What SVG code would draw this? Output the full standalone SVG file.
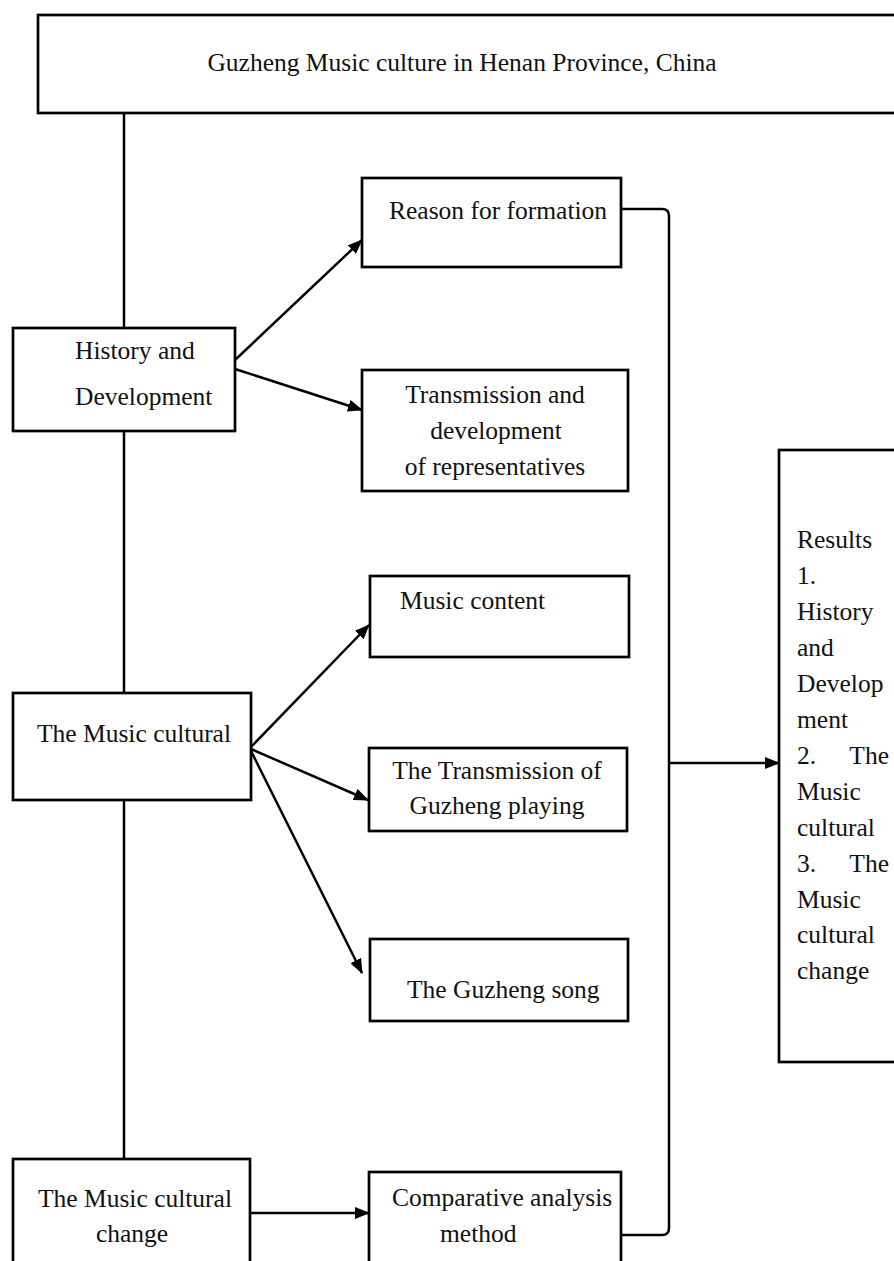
<svg xmlns="http://www.w3.org/2000/svg" width="894" height="1261" viewBox="0 0 894 1261">
<style>
.box{fill:#fff;stroke:#000;stroke-width:2.7}
.ln{fill:none;stroke:#000;stroke-width:2.5}
.t{font-family:"Liberation Serif","Times New Roman",serif;font-size:25.5px;fill:#111}
.c{text-anchor:middle}
</style>
<defs>
<marker id="ah" markerUnits="userSpaceOnUse" markerWidth="15" markerHeight="12" refX="14" refY="6" orient="auto">
<path d="M0,0 L15,6 L0,12 z" fill="#000"/>
</marker>
</defs>
<rect width="894" height="1261" fill="#fff"/>
<g id="connectors">
<line class="ln" x1="124" y1="113" x2="124" y2="1159"/>
<line class="ln" x1="235" y1="360" x2="362" y2="240" marker-end="url(#ah)"/>
<line class="ln" x1="235" y1="369" x2="362" y2="410" marker-end="url(#ah)"/>
<line class="ln" x1="251" y1="747" x2="369" y2="625" marker-end="url(#ah)"/>
<line class="ln" x1="251" y1="749" x2="368" y2="800" marker-end="url(#ah)"/>
<line class="ln" x1="251" y1="751" x2="362" y2="973" marker-end="url(#ah)"/>
<line class="ln" x1="250" y1="1213" x2="369" y2="1213" marker-end="url(#ah)"/>
<path class="ln" d="M621,209 L662,209 Q669,209 669,216 L669,1228 Q669,1235 662,1235 L621,1235"/>
<line class="ln" x1="669" y1="763" x2="779" y2="763" marker-end="url(#ah)"/>
</g>
<g id="title">
<rect class="box" x="38" y="15" width="870" height="98"/>
<text class="t c" x="462" y="71">Guzheng Music culture in Henan Province, China</text>
</g>
<g id="history">
<rect class="box" x="13" y="328" width="222" height="103"/>
<text class="t" x="75" y="359">History and</text>
<text class="t" x="75" y="405">Development</text>
</g>
<g id="reason">
<rect class="box" x="362" y="178" width="259" height="89"/>
<text class="t" x="389" y="219">Reason for formation</text>
</g>
<g id="transmission">
<rect class="box" x="362" y="370" width="266" height="121"/>
<text class="t c" x="495" y="403">Transmission and</text>
<text class="t c" x="496" y="439">development</text>
<text class="t c" x="495" y="475">of representatives</text>
</g>
<g id="music-cultural">
<rect class="box" x="13" y="693" width="238" height="107"/>
<text class="t" x="37" y="742">The Music cultural</text>
</g>
<g id="music-content">
<rect class="box" x="370" y="576" width="259" height="81"/>
<text class="t" x="400" y="609">Music content</text>
</g>
<g id="transmission-playing">
<rect class="box" x="369" y="748" width="258" height="83"/>
<text class="t c" x="497" y="779">The Transmission of</text>
<text class="t c" x="497" y="814">Guzheng playing</text>
</g>
<g id="guzheng-song">
<rect class="box" x="370" y="939" width="258" height="82"/>
<text class="t" x="407" y="998">The Guzheng song</text>
</g>
<g id="music-cultural-change">
<rect class="box" x="13" y="1159" width="237" height="120"/>
<text class="t c" x="135" y="1207">The Music cultural</text>
<text class="t c" x="132" y="1242">change</text>
</g>
<g id="comparative">
<rect class="box" x="369" y="1172" width="252" height="110"/>
<text class="t" x="392" y="1206">Comparative analysis</text>
<text class="t" x="440" y="1242">method</text>
</g>
<g id="results">
<rect class="box" x="779" y="450" width="130" height="612"/>
<text class="t" x="797" y="548">Results</text>
<text class="t" x="797" y="584">1.</text>
<text class="t" x="797" y="620">History</text>
<text class="t" x="797" y="656">and</text>
<text class="t" x="797" y="692">Develop</text>
<text class="t" x="797" y="728">ment</text>
<text class="t" x="797" y="764">2.</text>
<text class="t" x="889" y="764" text-anchor="end">The</text>
<text class="t" x="797" y="800">Music</text>
<text class="t" x="797" y="836">cultural</text>
<text class="t" x="797" y="872">3.</text>
<text class="t" x="889" y="872" text-anchor="end">The</text>
<text class="t" x="797" y="908">Music</text>
<text class="t" x="797" y="943">cultural</text>
<text class="t" x="797" y="979">change</text>
</g>
</svg>
